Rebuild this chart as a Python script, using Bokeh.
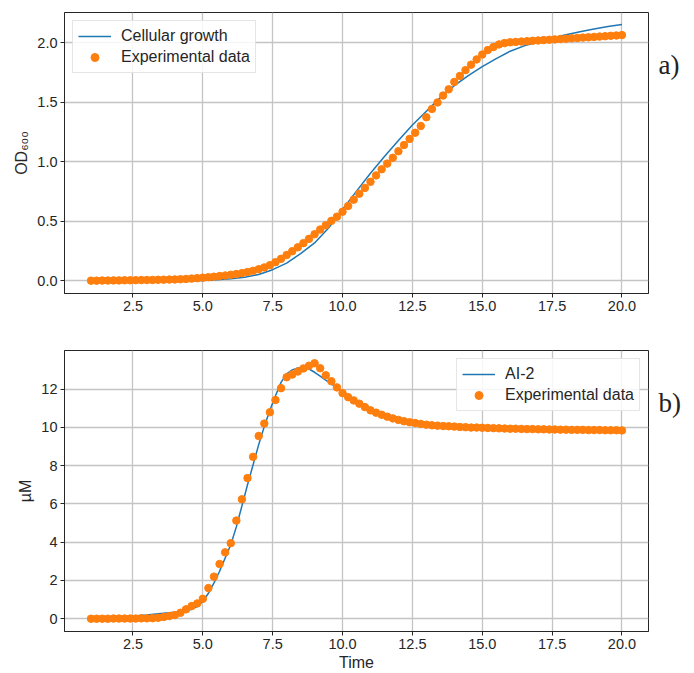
from bokeh.plotting import figure
from bokeh.layouts import column
from bokeh.models import Range1d, FixedTicker, PrintfTickFormatter, LinearAxis
from bokeh.embed import file_html
from bokeh.resources import INLINE

# ---------------- data ----------------
# experimental sampling times (every 0.2 from 1.0 to 20.0)
t_exp = [round(1.0 + 0.2 * i, 1) for i in range(96)]

od_exp = [0.003, 0.003, 0.004, 0.004, 0.005, 0.005, 0.006, 0.006, 0.007, 0.008,
          0.008, 0.009, 0.010, 0.011, 0.012, 0.013, 0.015, 0.017, 0.020, 0.024,
          0.028, 0.032, 0.036, 0.041, 0.046, 0.052, 0.058, 0.066, 0.075, 0.086,
          0.099, 0.114, 0.133, 0.158, 0.186, 0.218, 0.250, 0.283, 0.318, 0.354,
          0.393, 0.432, 0.468, 0.505, 0.540, 0.582, 0.630, 0.683, 0.733, 0.782,
          0.833, 0.887, 0.938, 0.986, 1.035, 1.090, 1.142, 1.193, 1.245, 1.302,
          1.375, 1.445, 1.500, 1.558, 1.610, 1.672, 1.722, 1.771, 1.817, 1.861,
          1.902, 1.940, 1.965, 1.987, 1.998, 2.005, 2.008, 2.011, 2.014, 2.017,
          2.020, 2.023, 2.026, 2.029, 2.032, 2.035, 2.038, 2.041, 2.044, 2.047,
          2.050, 2.053, 2.056, 2.059, 2.062, 2.065]

ai2_exp = [0.00, 0.00, 0.00, 0.00, 0.01, 0.01, 0.01, 0.01, 0.01, 0.02,
           0.02, 0.03, 0.05, 0.09, 0.14, 0.19, 0.31, 0.49, 0.66, 0.80,
           1.04, 1.60, 2.20, 2.86, 3.47, 3.95, 5.13, 6.24, 7.35, 8.46,
           9.55, 10.20, 10.79, 11.43, 12.05, 12.62, 12.76, 12.92, 13.08, 13.22,
           13.35, 13.09, 12.72, 12.41, 12.09, 11.79, 11.58, 11.41, 11.24, 11.06,
           10.89, 10.77, 10.66, 10.56, 10.47, 10.39, 10.32, 10.27, 10.23, 10.18,
           10.14, 10.11, 10.09, 10.07, 10.06, 10.04, 10.02, 10.01, 9.99, 9.99,
           9.98, 9.97, 9.96, 9.95, 9.94, 9.93, 9.93, 9.92, 9.91, 9.91,
           9.90, 9.90, 9.89, 9.89, 9.88, 9.88, 9.87, 9.87, 9.87, 9.86,
           9.86, 9.86, 9.85, 9.85, 9.85, 9.84]

# model curves
t_growth = [1.0, 1.5, 2.0, 2.5, 3.0, 3.5, 4.0, 4.5, 5.0, 5.5, 6.0, 6.5, 7.0, 7.5,
            8.0, 8.5, 9.0, 9.5, 10.0, 10.5, 11.0, 11.5, 12.0, 12.5, 13.0, 13.5,
            14.0, 14.5, 15.0, 15.5, 16.0, 16.5, 17.0, 17.5, 18.0, 18.5, 19.0,
            19.5, 20.0]
growth = [0.000, 0.000, 0.000, 0.001, 0.001, 0.001, 0.002, 0.003, 0.005, 0.010,
          0.018, 0.032, 0.055, 0.095, 0.150, 0.230, 0.320, 0.445, 0.600, 0.755,
          0.905, 1.045, 1.180, 1.310, 1.425, 1.540, 1.640, 1.725, 1.800, 1.868,
          1.930, 1.975, 2.010, 2.040, 2.068, 2.093, 2.117, 2.137, 2.155]

t_ai2 = [1.0, 1.5, 2.0, 2.5, 3.0, 3.5, 4.0, 4.2, 4.4, 4.6, 4.8, 5.0, 5.2, 5.4,
         5.6, 5.8, 6.0, 6.2, 6.4, 6.6, 6.8, 7.0, 7.2, 7.4, 7.6, 7.8, 8.0, 8.2,
         8.4, 8.6, 8.8, 9.0, 9.2, 9.4, 9.6, 9.8, 10.0, 10.5, 11.0, 11.5, 12.0,
         12.5, 13.0, 13.5, 14.0, 14.5, 15.0, 16.0, 17.0, 18.0, 19.0, 20.0]
ai2 = [0.00, 0.04, 0.09, 0.14, 0.20, 0.27, 0.34, 0.38, 0.42, 0.50, 0.64, 0.90,
       1.33, 1.87, 2.48, 3.17, 3.87, 4.80, 5.90, 7.00, 8.05, 9.10, 10.05, 10.90,
       11.65, 12.35, 12.80, 13.00, 13.10, 13.12, 13.05, 12.88, 12.68, 12.47,
       12.27, 12.07, 11.85, 11.40, 11.00, 10.72, 10.50, 10.33, 10.20, 10.10,
       10.04, 10.00, 9.97, 9.92, 9.89, 9.87, 9.85, 9.84]

x_ticks = [2.5, 5.0, 7.5, 10.0, 12.5, 15.0, 17.5, 20.0]
y_ticks_a = [0.0, 0.5, 1.0, 1.5, 2.0]
y_ticks_b = [0, 2, 4, 6, 8, 10, 12]

FONT = "Liberation Sans"
INK = "#262626"
BLUE = "#1f77b4"
ORANGE = "#ff7f0e"


def style(p, yticks, yfmt):
    p.xaxis.ticker = FixedTicker(ticks=x_ticks)
    p.xaxis.formatter = PrintfTickFormatter(format="%.1f")
    p.yaxis.ticker = FixedTicker(ticks=yticks)
    p.yaxis.formatter = PrintfTickFormatter(format=yfmt)
    for ax in (p.xaxis[0], p.yaxis[0]):
        ax.major_label_text_font = FONT
        ax.major_label_text_font_size = "14.5px"
        ax.major_label_text_color = INK
        ax.major_label_standoff = 3
        ax.axis_line_color = INK
        ax.axis_line_width = 1
        ax.major_tick_line_color = INK
        ax.major_tick_in = 0
        ax.major_tick_out = 4
        ax.minor_tick_line_color = None
        ax.axis_label_text_font = FONT
        ax.axis_label_text_font_style = "normal"
        ax.axis_label_text_font_size = "16px"
        ax.axis_label_text_color = INK
        ax.axis_label_standoff = 4
    p.xgrid.grid_line_color = "#c4c4c4"
    p.ygrid.grid_line_color = "#c4c4c4"
    p.xgrid.grid_line_width = 1.3
    p.ygrid.grid_line_width = 1.3
    p.outline_line_color = INK
    p.outline_line_alpha = 1
    p.outline_line_width = 1
    p.background_fill_color = "white"
    p.border_fill_color = "white"


def legend_style(p, loc):
    lg = p.legend[0]
    lg.location = loc
    lg.margin = 8
    lg.padding = 5
    lg.spacing = 1
    lg.label_height = 20
    lg.glyph_height = 20
    lg.glyph_width = 33
    lg.label_standoff = 10
    lg.label_text_font = FONT
    lg.label_text_font_size = "16px"
    lg.label_text_color = INK
    lg.border_line_color = "#cccccc"
    lg.border_line_width = 1
    lg.background_fill_color = "white"
    lg.background_fill_alpha = 0.85


def panel_tag(p, y, tag):
    ax = LinearAxis(ticker=FixedTicker(ticks=[y]),
                    major_label_overrides={y: tag})
    ax.axis_line_color = None
    ax.major_tick_line_color = None
    ax.minor_tick_line_color = None
    ax.major_tick_in = 0
    ax.major_tick_out = 0
    ax.major_label_standoff = 10
    ax.major_label_orientation = "horizontal"
    ax.major_label_text_font = "Liberation Serif"
    ax.major_label_text_font_size = "27px"
    ax.major_label_text_color = "#222222"
    p.add_layout(ax, "right")


# ---------------- panel a ----------------
pa = figure(width=694, height=330, output_backend="svg", toolbar_location=None,
            x_range=Range1d(0.05, 20.95), y_range=Range1d(-0.105, 2.255),
            min_border_left=64, min_border_right=46, min_border_top=12,
            min_border_bottom=37)
pa.line(t_growth, growth, line_color=BLUE, line_width=1.5,
        legend_label="Cellular growth")
pa.scatter(t_exp, od_exp, size=7.5, fill_color=ORANGE, line_color=ORANGE,
           legend_label="Experimental data")
style(pa, y_ticks_a, "%.1f")
pa.yaxis[0].axis_label = "OD₆₀₀"
legend_style(pa, "top_left")
panel_tag(pa, 1.81, "a)")

# ---------------- panel b ----------------
pb = figure(width=694, height=343, output_backend="svg", toolbar_location=None,
            x_range=Range1d(0.05, 20.95), y_range=Range1d(-0.6675, 14.0175),
            min_border_left=64, min_border_right=46, min_border_top=20,
            min_border_bottom=41)
pb.line(t_ai2, ai2, line_color=BLUE, line_width=1.5, legend_label="AI-2")
pb.scatter(t_exp, ai2_exp, size=7.5, fill_color=ORANGE, line_color=ORANGE,
           legend_label="Experimental data")
style(pb, y_ticks_b, "%d")
pb.yaxis[0].axis_label = "µM"
pb.xaxis[0].axis_label = "Time"
pb.xaxis[0].axis_label_standoff = 2
legend_style(pb, "top_right")
panel_tag(pb, 11.25, "b)")

layout = column(pa, pb, spacing=0)
open("out.html", "w").write(file_html(layout, INLINE))
